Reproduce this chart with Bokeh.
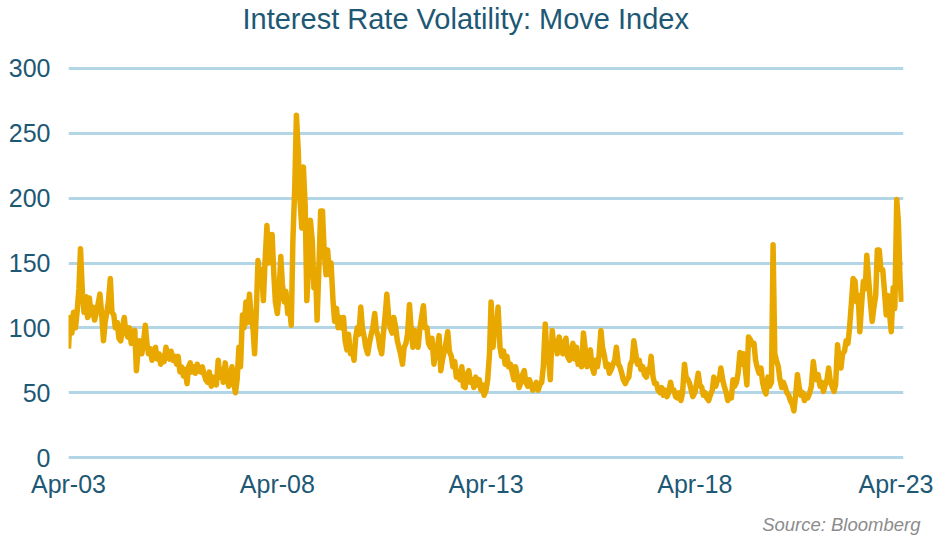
import pandas as pd
from bokeh.plotting import figure
from bokeh.models import Range1d, FixedTicker, DatetimeTickFormatter, Title, ColumnDataSource
from bokeh.embed import file_html
from bokeh.resources import INLINE

# MOVE index, semi-monthly readings (1st and 15th of each month), Apr 2003 - Mar 2023
v2003 = [84, 108, 96, 112, 100, 112, 130, 161, 126, 112, 124, 108, 123, 110, 116, 106, 112, 118]
v2004 = [126, 112, 90, 104, 112, 120, 138, 112, 110, 100, 104, 92, 90, 100, 108, 96, 93, 100, 88, 96, 98, 67, 84, 90]
v2005 = [80, 88, 102, 88, 80, 84, 75, 82, 85, 76, 80, 72, 78, 74, 85, 78, 76, 82, 75, 78, 72, 78, 66, 70]
v2006 = [63, 68, 57, 70, 73, 66, 70, 65, 72, 67, 66, 70, 64, 60, 58, 66, 55, 62, 60, 56, 75, 62, 68, 58]
v2007 = [73, 62, 55, 64, 70, 58, 50, 60, 85, 70, 110, 100, 120, 104, 126, 110, 100, 80, 115, 152, 135, 145, 121, 150]
v2008 = [179, 150, 160, 172, 142, 120, 111, 125, 155, 134, 120, 128, 111, 118, 102, 167, 210, 264, 236, 200, 177, 224, 193, 121]
v2009 = [150, 183, 167, 131, 145, 106, 150, 190, 190, 160, 141, 160, 141, 150, 121, 105, 115, 100, 108, 100, 108, 90, 83, 95]
v2010 = [80, 85, 75, 92, 100, 95, 116, 100, 93, 85, 80, 88, 95, 100, 111, 98, 93, 85, 80, 95, 110, 126, 108, 100]
v2011 = [96, 108, 100, 90, 85, 80, 72, 85, 88, 95, 118, 100, 85, 98, 95, 85, 100, 108, 117, 100, 100, 88, 85, 92]
v2012 = [72, 80, 85, 94, 67, 75, 82, 88, 97, 82, 78, 70, 74, 62, 66, 60, 70, 55, 54, 64, 67, 58, 60, 54]
v2013 = [62, 56, 60, 52, 56, 48, 52, 60, 80, 120, 85, 100, 100, 116, 85, 78, 82, 72, 78, 70, 72, 66, 60, 70]
v2014 = [62, 54, 58, 64, 67, 58, 55, 60, 56, 52, 54, 58, 52, 56, 58, 70, 103, 80, 75, 60, 98, 85, 90, 80]
v2015 = [93, 85, 80, 88, 92, 78, 75, 82, 88, 76, 85, 72, 80, 70, 96, 85, 70, 80, 83, 70, 65, 75, 70, 78]
v2016 = [98, 85, 78, 70, 72, 65, 68, 72, 75, 85, 72, 70, 65, 60, 57, 60, 62, 72, 75, 90, 80, 72, 75, 68]
v2017 = [70, 64, 62, 68, 66, 78, 62, 57, 57, 52, 50, 54, 48, 52, 47, 50, 58, 52, 52, 47, 46, 50, 44, 50]
v2018 = [72, 62, 60, 57, 52, 47, 50, 56, 65, 56, 54, 48, 50, 46, 44, 48, 52, 62, 55, 60, 60, 69, 60, 55]
v2019 = [50, 44, 48, 46, 60, 55, 58, 65, 81, 72, 80, 70, 56, 93, 91, 87, 88, 75, 69, 65, 69, 58, 52, 49]
v2020 = [62, 55, 58, 164, 80, 75, 70, 60, 54, 58, 54, 50, 48, 44, 41, 36, 50, 64, 54, 48, 50, 44, 48, 46]
v2021 = [50, 55, 74, 64, 60, 64, 55, 58, 51, 56, 60, 69, 58, 55, 51, 56, 87, 75, 69, 80, 82, 90, 88, 100]
v2022 = [120, 138, 136, 120, 125, 97, 120, 136, 130, 156, 136, 120, 105, 115, 125, 160, 160, 145, 145, 130, 110, 125, 110, 97]
v2023 = [131, 115, 199, 182, 138, 120]

y_ticks = [0, 50, 100, 150, 200, 250, 300]
x_tick_dates = ["2003-04-01", "2008-04-01", "2013-04-01", "2018-04-01", "2023-04-01"]

values = (v2003 + v2004 + v2005 + v2006 + v2007 + v2008 + v2009 + v2010 + v2011 + v2012
          + v2013 + v2014 + v2015 + v2016 + v2017 + v2018 + v2019 + v2020 + v2021 + v2022 + v2023)
dates = pd.date_range(start="2003-04-01", periods=len(values), freq="SMS")
src = ColumnDataSource(data=dict(date=dates, move=values))

TEAL = "#1D5874"
FONT = "Liberation Sans"
FW, FH = 835, 393

p = figure(
    x_axis_type="datetime",
    frame_width=FW, frame_height=FH,
    min_border_left=68, min_border_right=30, min_border_top=66, min_border_bottom=74,
    x_range=Range1d(pd.Timestamp("2003-04-01"), pd.Timestamp("2023-04-01")),
    y_range=Range1d(-1.5, 301.5),
    output_backend="svg", toolbar_location=None,
)
p.outline_line_color = None
p.background_fill_color = "white"
p.border_fill_color = "white"

p.line("date", "move", source=src, line_color="#E8A800", line_width=5.5, line_join="round")

# Y axis
p.yaxis.ticker = FixedTicker(ticks=y_ticks)
p.yaxis.axis_line_color = None
p.yaxis.major_tick_line_color = None
p.yaxis.minor_tick_line_color = None
p.yaxis.major_label_standoff = 12
p.yaxis.major_label_text_font = FONT
p.yaxis.major_label_text_font_size = "25px"
p.yaxis.major_label_text_color = TEAL

# X axis
tick_ms = [pd.Timestamp(d).value // 10**6 for d in x_tick_dates]
p.xaxis.ticker = FixedTicker(ticks=tick_ms)
fmt = "%b-%y"
p.xaxis.formatter = DatetimeTickFormatter(years=fmt, months=fmt, days=fmt, hours=fmt,
                                          minutes=fmt, seconds=fmt, milliseconds=fmt,
                                          microseconds=fmt, hourmin=fmt, minsec=fmt,
                                          context=None)
p.xaxis.axis_line_color = None
p.xaxis.major_tick_line_color = None
p.xaxis.minor_tick_line_color = None
p.xaxis.major_label_standoff = 4
p.xaxis.major_label_text_font = FONT
p.xaxis.major_label_text_font_size = "25px"
p.xaxis.major_label_text_color = TEAL

# Grid
p.xgrid.grid_line_color = None
p.ygrid.grid_line_color = "#B3D6E6"
p.ygrid.grid_line_width = 3

# spacer between frame and title, then the title
p.add_layout(Title(text=" ", text_font_size="1px", standoff=25), "above")
p.add_layout(Title(text="Interest Rate Volatility:  Move Index", align="left", offset=174,
                   vertical_align="top", standoff=4,
                   text_font=FONT, text_font_size="29px", text_font_style="normal",
                   text_color=TEAL), "above")

# spacer between axis and source note, then the note
p.add_layout(Title(text=" ", text_font_size="1px", standoff=5), "below")
p.add_layout(Title(text="Source: Bloomberg", align="right", offset=-17,
                   vertical_align="bottom", standoff=6,
                   text_font=FONT, text_font_size="18.5px", text_font_style="italic",
                   text_color="#8C8C8C"), "below")

open("out.html", "w").write(file_html(p, INLINE))
